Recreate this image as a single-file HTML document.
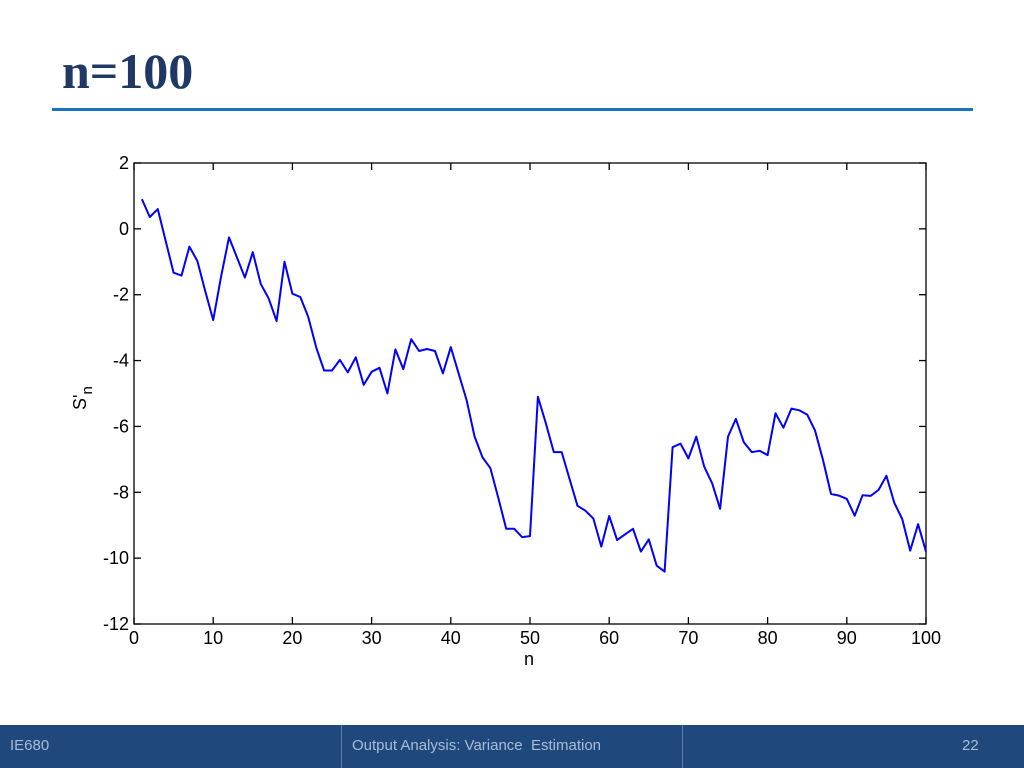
<!DOCTYPE html>
<html><head><meta charset="utf-8"><style>
body{margin:0;width:1024px;height:768px;background:#fff;position:relative;overflow:hidden;font-family:"Liberation Sans",sans-serif}
#title{position:absolute;left:62px;top:42px;font:bold 50px "Liberation Serif",serif;color:#1f3864;margin:0}
#rule{position:absolute;left:52px;top:108px;width:921px;height:3px;background:#1a73bd}
#footer{position:absolute;left:0;top:725px;width:1024px;height:43px;background:#1f497d}
.fd{position:absolute;top:0;width:1px;height:43px;background:#5a7fae}
.ft{position:absolute;top:12px;font:15px "Liberation Sans",sans-serif;color:#a9bcd6}
svg{position:absolute;left:0;top:0}
</style></head><body>
<h1 id="title">n=100</h1>
<div id="rule"></div>
<svg id="chart" width="1024" height="768"></svg>
<div id="footer">
<div class="fd" style="left:341px"></div>
<div class="fd" style="left:682px"></div>
<span class="ft" style="left:10px">IE680</span>
<span class="ft" style="left:352px">Output Analysis: Variance&nbsp; Estimation</span>
<span class="ft" style="left:962px">22</span>
</div>
<script>
const xTicks=[0,10,20,30,40,50,60,70,80,90,100];
const yTicks=[2,0,-2,-4,-6,-8,-10,-12];
const values=[0.90,0.36,0.60,-0.37,-1.33,-1.42,-0.54,-0.98,-1.9,-2.77,
-1.45,-0.26,-0.87,-1.48,-0.71,-1.67,-2.11,-2.80,-1.0,-1.97,
-2.07,-2.67,-3.6,-4.30,-4.30,-3.98,-4.36,-3.90,-4.74,-4.34,
-4.22,-5.0,-3.66,-4.26,-3.35,-3.71,-3.65,-3.71,-4.39,-3.59,
-4.4,-5.2,-6.31,-6.94,-7.27,-8.17,-9.11,-9.11,-9.36,-9.33,
-5.10,-5.9,-6.78,-6.78,-7.6,-8.41,-8.56,-8.80,-9.65,-8.72,
-9.45,-9.28,-9.11,-9.80,-9.43,-10.23,-10.41,-6.63,-6.52,-6.97,
-6.31,-7.22,-7.73,-8.50,-6.31,-5.77,-6.48,-6.78,-6.74,-6.87,
-5.60,-6.04,-5.46,-5.51,-5.64,-6.13,-7.02,-8.05,-8.10,-8.20,
-8.71,-8.09,-8.11,-7.93,-7.50,-8.32,-8.81,-9.77,-8.97,-9.80];
const L=134,R=926,T=163,B=624;
const sx=v=>L+(v-0)/(100-0)*(R-L);
const sy=v=>T+(2-v)/(2-(-12))*(B-T);
const svg=document.getElementById('chart');
const NS='http://www.w3.org/2000/svg';
function mk(t,a){const e=document.createElementNS(NS,t);for(const k in a)e.setAttribute(k,a[k]);svg.appendChild(e);return e;}
let box=mk('rect',{x:L,y:T,width:R-L,height:B-T,fill:'#fff',stroke:'#000','stroke-width':1.3});


xTicks.forEach(t=>{const x=sx(t);
 let a=mk('line',{x1:x,y1:B,x2:x,y2:B-7,stroke:'#000','stroke-width':1.3});
 
 
 let b=mk('line',{x1:x,y1:T,x2:x,y2:T+7,stroke:'#000','stroke-width':1.3});
 
 
 let tx=mk('text',{x:x,y:B+20,'text-anchor':'middle','font-size':18,'font-family':'Liberation Sans, sans-serif'});tx.textContent=t;
 
 
});
yTicks.forEach(t=>{const y=sy(t);
 let a=mk('line',{x1:L,y1:y,x2:L+7,y2:y,stroke:'#000','stroke-width':1.3});
 
 
 let b=mk('line',{x1:R,y1:y,x2:R-7,y2:y,stroke:'#000','stroke-width':1.3});
 
 
 let tx=mk('text',{x:L-5,y:y+6,'text-anchor':'end','font-size':18,'font-family':'Liberation Sans, sans-serif'});tx.textContent=t;
 
 
});
const pts=values.map((v,i)=>sx(i+1).toFixed(1)+','+sy(v).toFixed(1)).join(' ');
let line=mk('polyline',{points:pts,fill:'none',stroke:'#0000ff','stroke-width':2,'stroke-linejoin':'round'});


let xl=mk('text',{x:529,y:665,'text-anchor':'middle','font-size':18,'font-family':'Liberation Sans, sans-serif'});xl.textContent='n';


let yl=mk('text',{x:0,y:0,'font-size':18,'font-family':'Liberation Sans, sans-serif',transform:'translate(86,410) rotate(-90)'});
yl.innerHTML="S'<tspan dy='6' font-size='15'>n</tspan>";


</script>
</body></html>
